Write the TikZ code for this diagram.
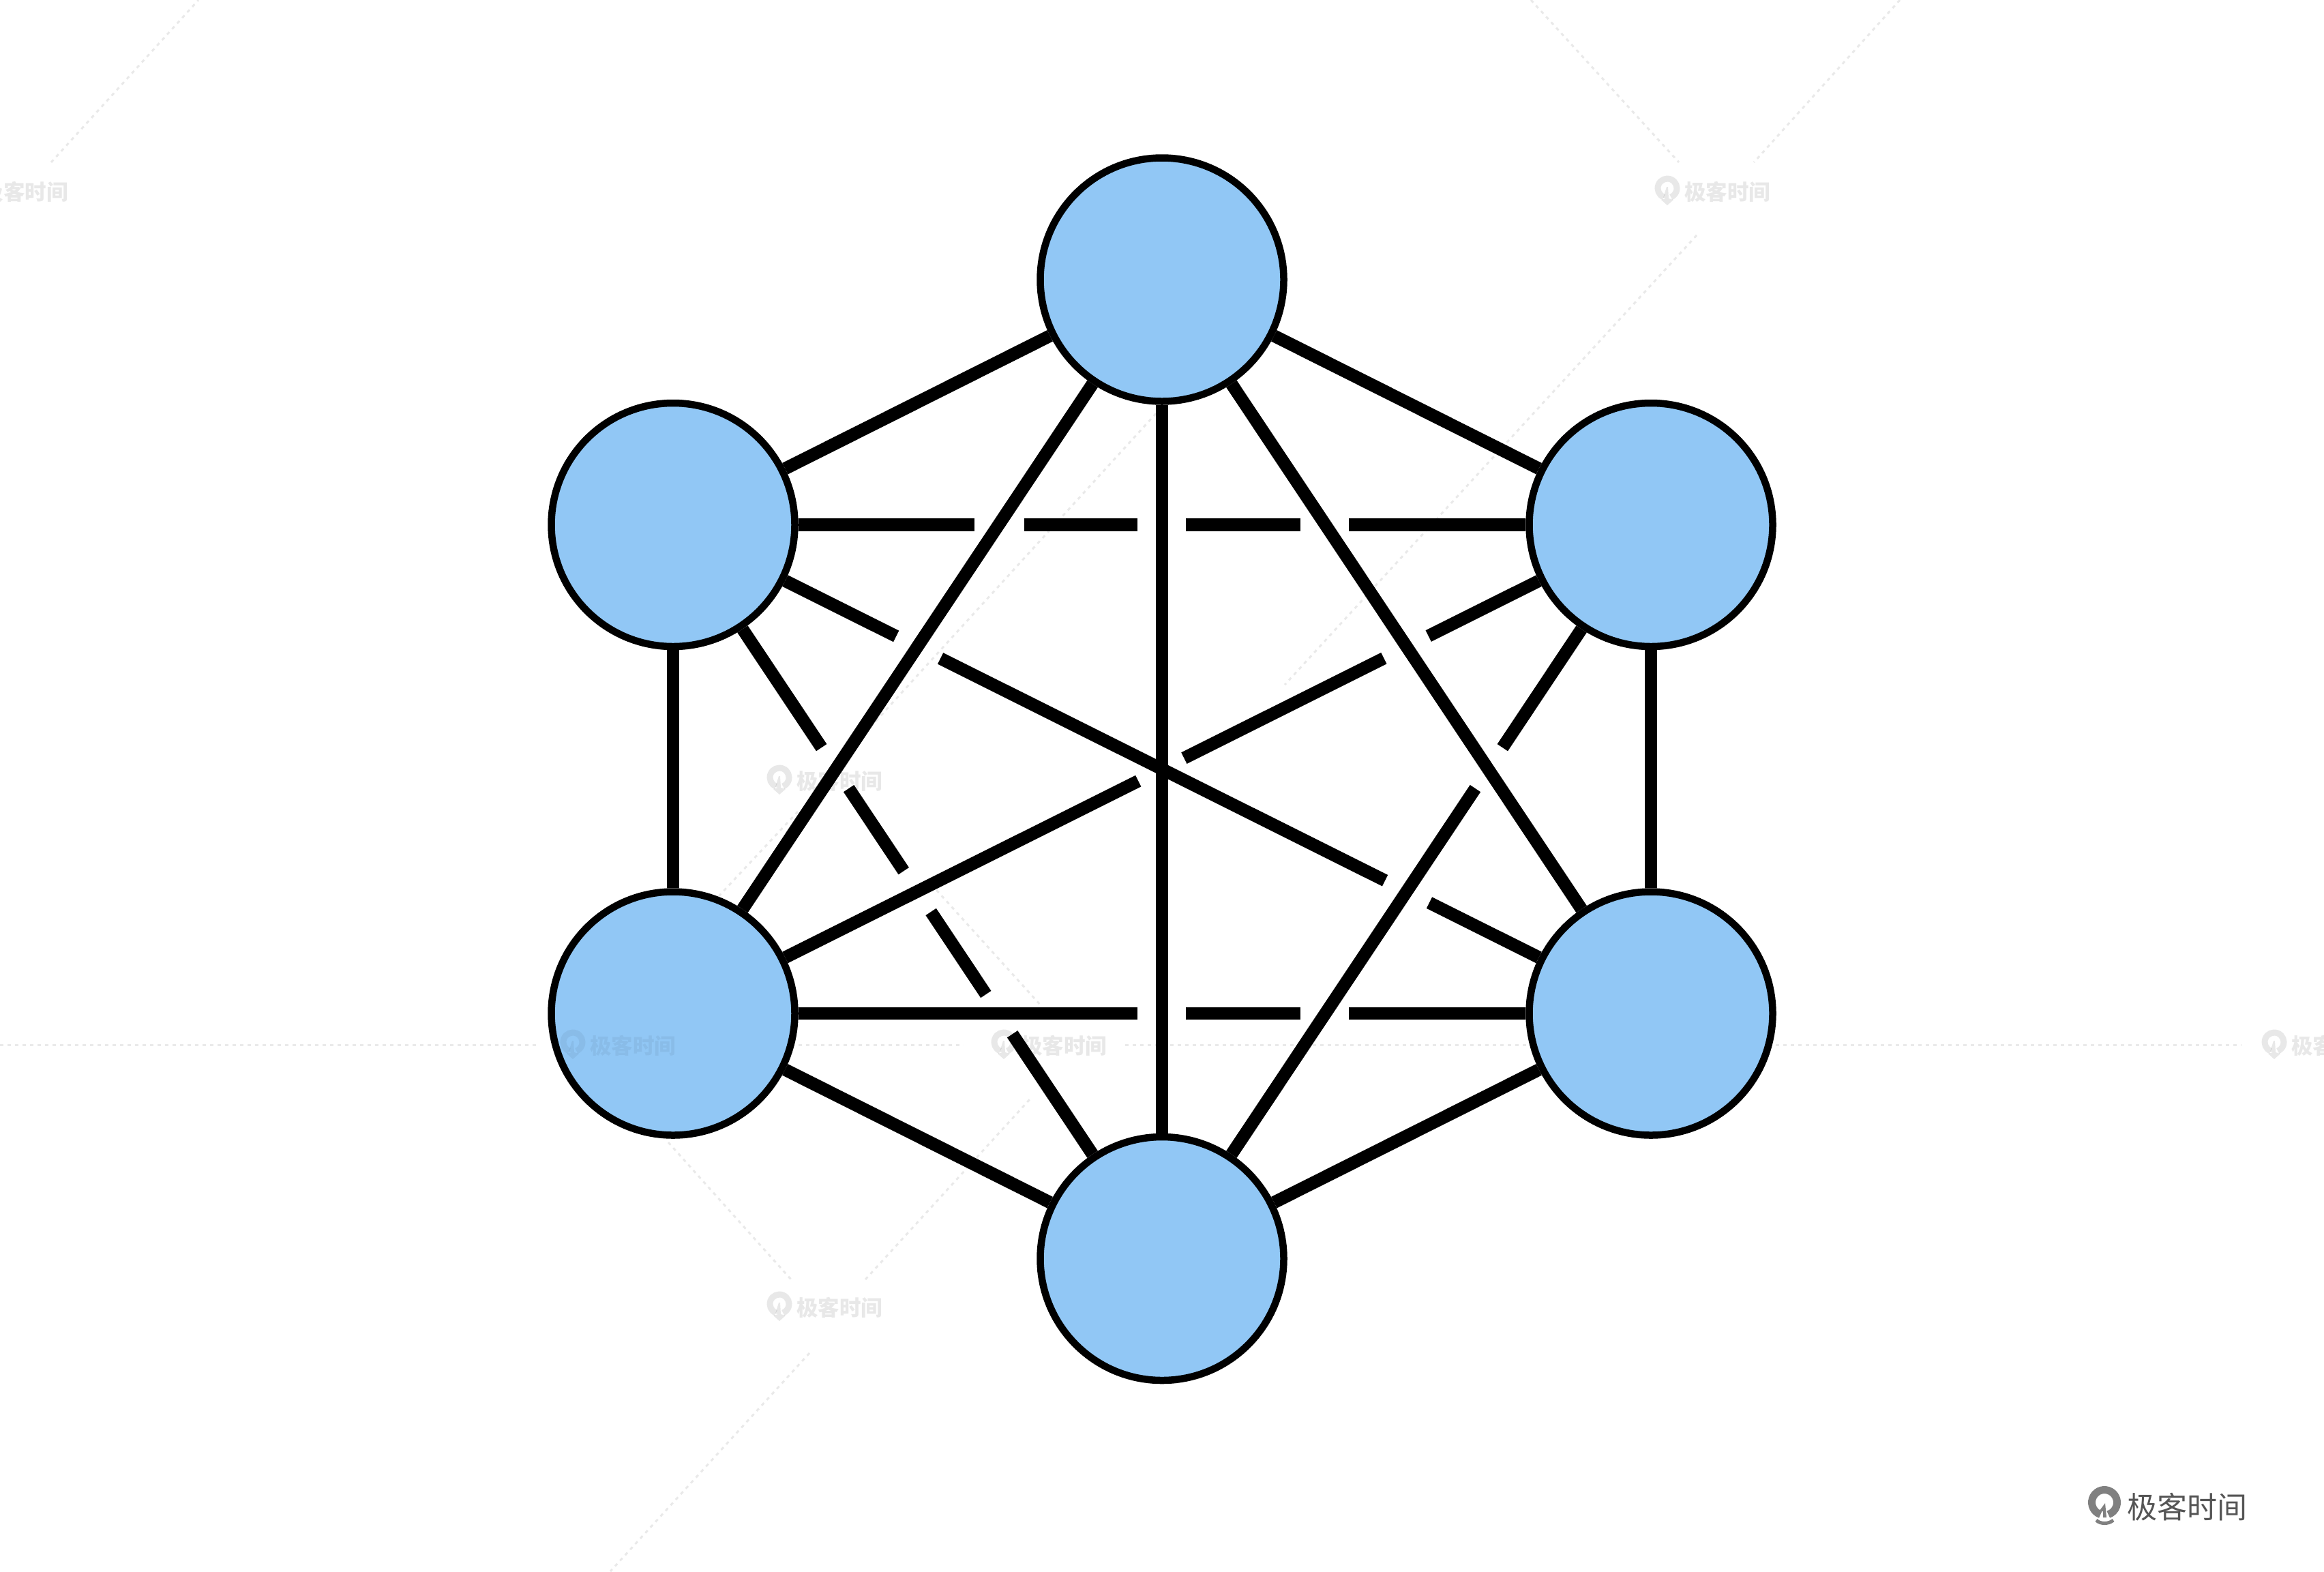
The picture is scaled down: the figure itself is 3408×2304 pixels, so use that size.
\documentclass[tikz,border=0pt]{standalone}
\usepackage{fontspec}
\newfontfamily\cjk{Noto Sans CJK SC}
\newcommand{\wmark}[4][0.09]{%
  \node[wmtext,text opacity=#1] (#2) at (#3,#4) {极客时间};
  \draw[wmring,draw opacity=#1] ($(#2.center)+(-88,-5)$) ++(112:14) arc[start angle=112,end angle=428,radius=14];
  \fill[wmfill,fill opacity=#1] ($(#2.center)+(-88,20)$) -- ++(-9,-8) -- ++(7,-2) -- ++(-4,-1) -- ++(5,-16) -- ++(2,0) -- ++(1,17) -- ++(7,2) -- cycle;
}
\usetikzlibrary{calc}
\definecolor{vblue}{HTML}{91C7F5}
\definecolor{logotext}{HTML}{555555}
\definecolor{logogray}{HTML}{808080}
\tikzset{
  vertexnode/.style={circle,draw=black,line width=5.25pt,fill=vblue,minimum size=178.5pt,inner sep=0pt},
  wire/.style={draw=black,line width=9.25pt},
  wmtext/.style={font=\cjk\bfseries\fontsize{15.75}{16}\selectfont,text=black,inner sep=0pt},
  wmring/.style={draw=black,line width=4.5pt},
  wmfill/.style={fill=black},
  wmline/.style={draw=black,draw opacity=0.085,line width=1.5pt,dash pattern=on 2.5pt off 3pt},
}
\begin{document}
\begin{tikzpicture}[x=0.5pt,y=-0.5pt]
\useasboundingbox (0,0) rectangle (3408,2304);
\fill[white] (0,0) rectangle (3408,2304);
% vertices
\node[vertexnode] (T)  at (1704,410)    {};
\node[vertexnode] (UL) at (987,769.5)   {};
\node[vertexnode] (UR) at (2421,769.5)  {};
\node[vertexnode] (LL) at (987,1486)    {};
\node[vertexnode] (LR) at (2421,1486)   {};
\node[vertexnode] (B)  at (1704,1845.5) {};
% outer hexagon
\draw[wire] (T) -- (UL);
\draw[wire] (T) -- (UR);
\draw[wire] (UL) -- (LL);
\draw[wire] (UR) -- (LR);
\draw[wire] (LL) -- (B);
\draw[wire] (LR) -- (B);
% unbroken inner connectors
\draw[wire] (T) -- (B);
\draw[wire] (T) -- (LL);
\draw[wire] (T) -- (LR);
% connectors broken where they pass under another one
\draw[wire,dash pattern=on 129.2pt off 36.5pt on 83pt off 35.5pt on 84pt off 35.5pt on 500pt] (UL) -- (UR);
\draw[wire,dash pattern=on 248.7pt off 35.5pt on 84pt off 35.5pt on 500pt] (LL) -- (LR);
\draw[wire,dash pattern=on 91pt off 36.3pt on 364.4pt off 36.3pt on 500pt] (UL) -- (LR);
\draw[wire,dash pattern=on 90.5pt off 36.5pt on 163.8pt off 37.5pt on 600pt] (UR) -- (LL);
\draw[wire,dash pattern=on 104.4pt off 36pt on 72.7pt off 36pt on 72.7pt off 35pt on 500pt] (UL) -- (B);
\draw[wire,dash pattern=on 104.4pt off 36pt on 600pt] (UR) -- (B);
% watermark guide lines
\draw[wmline] (75,238) -- (291,0);
\draw[wmline] (2245,0) -- (2462,238);
\draw[wmline] (2786,0) -- (2572,238);
\draw[wmline] (2488,345) -- (1884,1004);
\draw[wmline] (1710,590) -- (1250,1095);
\draw[wmline] (1170,1190) -- (1054,1314);
\draw[wmline] (1366,1297) -- (1527,1475);
\draw[wmline] (980,1675) -- (1160,1876);
\draw[wmline] (1269,1876) -- (1510,1612);
\draw[wmline] (1187,1984) -- (895,2304);
\draw[wmline] (0,1532) -- (790,1532);
\draw[wmline] (1160,1532) -- (1413,1532);
\draw[wmline] (1650,1532) -- (2240,1532);
\draw[wmline] (2604,1532) -- (3287,1532);
% watermarks
\wmark{wa}{37}{281}
\wmark{wb}{2533}{281}
\wmark{wc}{1231}{1145}
\wmark[0.05]{wd}{928}{1533}
\wmark{we}{1560}{1533}
\wmark{wf}{3423}{1533}
\wmark{wg}{1231}{1917}
% logo
\node[font=\cjk\fontsize{22}{22}\selectfont,text=logotext,inner sep=0pt] (logotitle) at (3207,2210) {极客时间};
\draw[draw=logogray,line width=5.5pt] (3086,2203) ++(108:18.5) arc[start angle=108,end angle=432,radius=18.5];
\fill[logogray] (3087,2204) -- (3078,2216) -- (3084,2216) -- (3084,2225) -- (3089,2225) -- cycle;
\draw[draw=logogray,line width=2.5pt] (3074,2229) .. controls (3080,2235) and (3092,2235) .. (3099,2229);
\end{tikzpicture}
\end{document}
